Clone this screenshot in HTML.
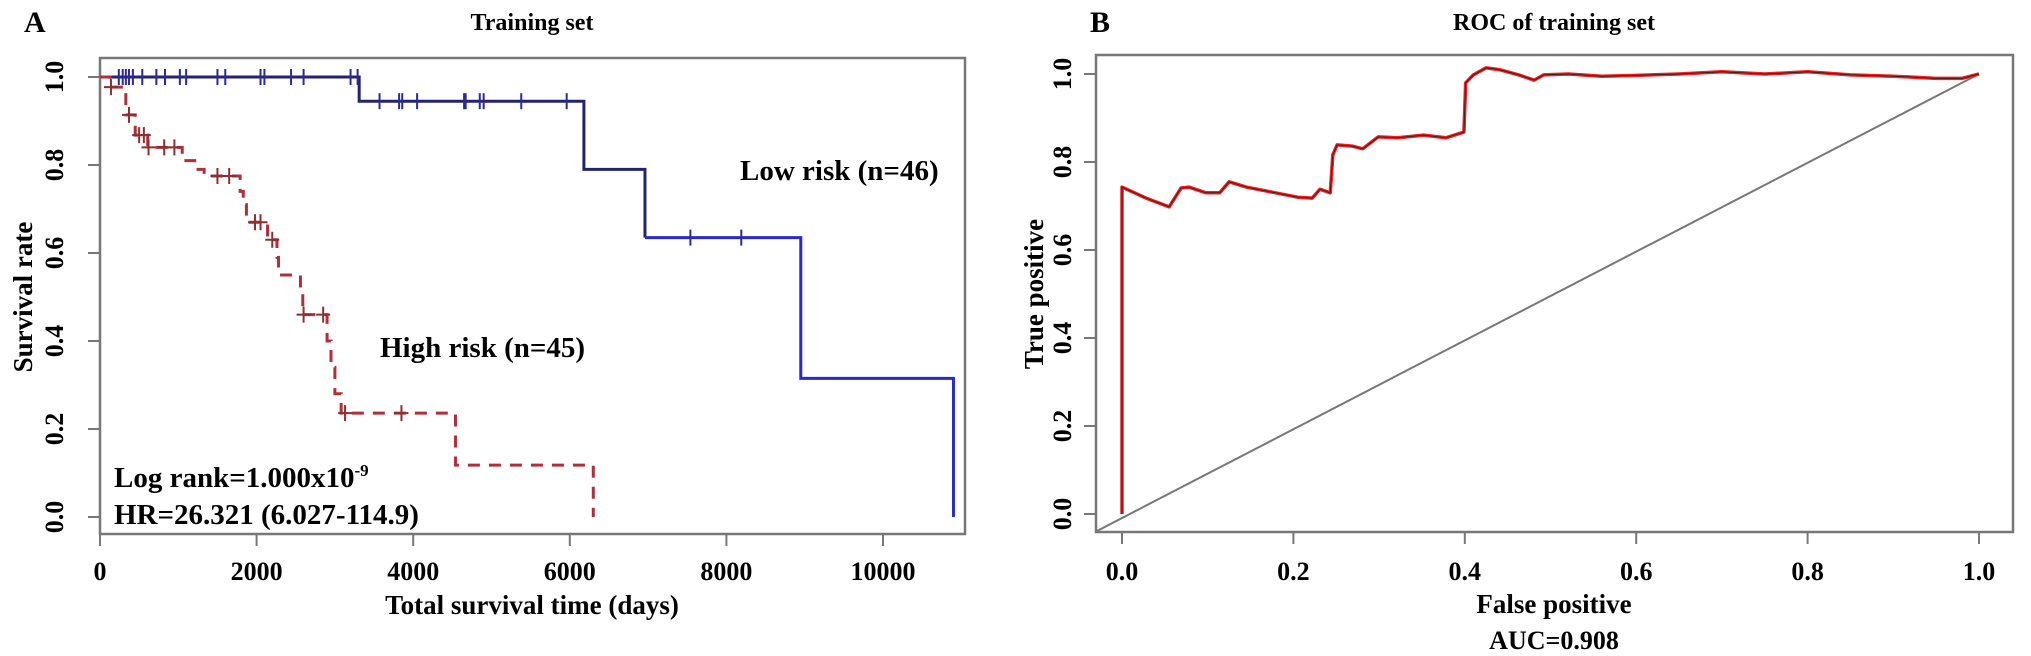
<!DOCTYPE html>
<html><head><meta charset="utf-8"><style>
html,body{margin:0;padding:0;background:#fff;}
svg{display:block;font-family:"Liberation Serif",serif;font-weight:bold;}
</style></head><body>
<svg id="fig" width="2031" height="656" viewBox="0 0 2031 656" xmlns="http://www.w3.org/2000/svg">
<g id="left"></g>
<g id="right"></g>
</svg>
<script>
// ---- KM data ----
const kmXTicks = [0, 2000, 4000, 6000, 8000, 10000];
const kmYTicks = [0.0, 0.2, 0.4, 0.6, 0.8, 1.0];
const lowTimes = [3310, 6180, 6960, 8950, 10900];
const lowSurv = [0.945, 0.79, 0.635, 0.315, 0];
const lowCensorT = [240,290,330,370,420,540,720,830,1020,1100,1500,1600,2050,2100,2440,2600,3200,3290,3570,3820,3860,4050,4650,4670,4850,4900,5380,5960,7540,8190];
const highTimes = [130,330,450,610,1050,1210,1330,1790,1830,1870,2140,2260,2280,2560,2590,2900,2950,3000,3080,4540,6300];
const highSurv = [0.977,0.914,0.868,0.84,0.81,0.79,0.775,0.74,0.71,0.67,0.63,0.59,0.55,0.52,0.46,0.40,0.34,0.28,0.236,0.118,0];
const highCensorT = [140,370,500,560,620,820,950,1500,1650,1980,2050,2200,2600,2850,3130,3850];
// ---- ROC data ----
const rocXTicks = [0.0,0.2,0.4,0.6,0.8,1.0];
const rocYTicks = [0.0,0.2,0.4,0.6,0.8,1.0];
const rocFP = [0,0,0.028,0.055,0.069,0.078,0.098,0.114,0.125,0.145,0.205,0.222,0.231,0.243,0.246,0.251,0.269,0.281,0.299,0.322,0.352,0.378,0.399,0.401,0.41,0.425,0.44,0.463,0.481,0.492,0.521,0.56,0.6,0.65,0.7,0.75,0.8,0.85,0.9,0.95,0.98,1.0];
const rocTP = [0,0.743,0.718,0.698,0.741,0.743,0.73,0.73,0.755,0.743,0.72,0.718,0.738,0.73,0.816,0.839,0.836,0.83,0.857,0.855,0.861,0.855,0.868,0.98,0.998,1.014,1.01,0.998,0.986,0.998,1.0,0.995,0.997,1.0,1.005,1.0,1.005,0.998,0.995,0.99,0.99,1.0];

const NS='http://www.w3.org/2000/svg';
function mk(parent, tag, attrs, text){const e=document.createElementNS(NS,tag);for(const k in attrs)e.setAttribute(k,attrs[k]);if(text!==undefined)e.textContent=text;parent.appendChild(e);return e;}

// KM axes
const L = document.getElementById('left');
const kx = t => 100 + t * (783/10000);
const ky = s => 517 - s * 440;
let e;
e = mk(L,'rect',{x:100,y:58,width:865,height:476,fill:'none',stroke:'#777','stroke-width':2.5});


kmXTicks.forEach(v=>{
  e = mk(L,'line',{x1:kx(v),x2:kx(v),y1:534,y2:546,stroke:'#777','stroke-width':2});
  
  
  e = mk(L,'text',{x:kx(v),y:580,'text-anchor':'middle','font-size':26},String(v));
  
  
});
kmYTicks.forEach(v=>{
  e = mk(L,'line',{x1:88,x2:100,y1:ky(v),y2:ky(v),stroke:'#777','stroke-width':2});
  
  
  e = mk(L,'text',{x:0,y:0,'text-anchor':'middle','font-size':26,transform:`translate(63,${ky(v)}) rotate(-90)`},v.toFixed(1));
  
  
});
function stepPath(times, surv){
  let d=`M${kx(0)},${ky(1)}`; let prev=1;
  times.forEach((t,i)=>{d+=` L${kx(t)},${ky(prev)} L${kx(t)},${ky(surv[i])}`;prev=surv[i];});
  return d;
}
function survAt(times,surv,t){let s=1;for(let i=0;i<times.length;i++){if(times[i]<=t)s=surv[i];}return s;}
e = mk(L,'path',{d:stepPath(lowTimes.slice(0,3),lowSurv.slice(0,3)),fill:'none',stroke:'#23236e','stroke-width':3});


e = mk(L,'path',{d:`M${kx(lowTimes[2])},${ky(lowSurv[2])} L${kx(lowTimes[3])},${ky(lowSurv[2])} L${kx(lowTimes[3])},${ky(lowSurv[3])} L${kx(lowTimes[4])},${ky(lowSurv[3])} L${kx(lowTimes[4])},${ky(lowSurv[4])}`,fill:'none',stroke:'#2a2acc','stroke-width':3});


lowCensorT.forEach(t=>{
  const y=ky(survAt(lowTimes,lowSurv,t));
  e = mk(L,'line',{x1:kx(t),x2:kx(t),y1:y-8,y2:y+8,stroke:'#2a2a9a','stroke-width':2});
  
  
});
e = mk(L,'path',{d:stepPath(highTimes,highSurv),fill:'none',stroke:'#b0303a','stroke-width':3,'stroke-dasharray':'12,9'});


highCensorT.forEach(t=>{
  const y=ky(survAt(highTimes,highSurv,t));
  e = mk(L,'path',{d:`M${kx(t)},${y-8} V${y+8} M${kx(t)-7},${y} H${kx(t)+7}`,stroke:'#8a3030','stroke-width':2});
  
  
});

// ROC axes
const R = document.getElementById('right');
const rx = v => 1122 + v*857;
const ry = v => 514 - v*440;
e = mk(R,'rect',{x:1096,y:55,width:917,height:477,fill:'none',stroke:'#777','stroke-width':2.5});


rocXTicks.forEach(v=>{
  e = mk(R,'line',{x1:rx(v),x2:rx(v),y1:532,y2:544,stroke:'#777','stroke-width':2});
  
  
  e = mk(R,'text',{x:rx(v),y:580,'text-anchor':'middle','font-size':26},v.toFixed(1));
  
  
});
rocYTicks.forEach(v=>{
  e = mk(R,'line',{x1:1084,x2:1096,y1:ry(v),y2:ry(v),stroke:'#777','stroke-width':2});
  
  
  e = mk(R,'text',{x:0,y:0,'text-anchor':'middle','font-size':26,transform:`translate(1071,${ry(v)}) rotate(-90)`},v.toFixed(1));
  
  
});
e = mk(R,'line',{x1:1097,y1:531,x2:rx(1.0),y2:ry(1.0),stroke:'#777','stroke-width':2});


const rocD = rocFP.map((f,i)=>(i?'L':'M')+rx(f)+','+ry(rocTP[i])).join(' ');
e = mk(R,'path',{d:rocD,fill:'none',stroke:'#ee2222','stroke-width':3.5,'stroke-linejoin':'round'});


e = mk(R,'path',{d:rocD,fill:'none',stroke:'#4a1a1a','stroke-width':1,'stroke-linejoin':'round'});


</script>
<svg width="2031" height="656" style="position:absolute;left:0;top:0" xmlns="http://www.w3.org/2000/svg">
<text x="24" y="32" font-size="30">A</text>
<text x="1090" y="32" font-size="30">B</text>
<text x="532" y="30" font-size="24" text-anchor="middle">Training set</text>
<text x="1554" y="30" font-size="24" text-anchor="middle">ROC of training set</text>
<text x="532" y="614" font-size="27" text-anchor="middle">Total survival time (days)</text>
<text font-size="27" text-anchor="middle" transform="translate(32,297) rotate(-90)">Survival rate</text>
<text x="1554" y="613" font-size="27" text-anchor="middle">False positive</text>
<text x="1554" y="649" font-size="26" text-anchor="middle">AUC=0.908</text>
<text font-size="27" text-anchor="middle" transform="translate(1043,294) rotate(-90)">True positive</text>
<text x="740" y="180" font-size="29">Low risk (n=46)</text>
<text x="380" y="357" font-size="29">High risk (n=45)</text>
<text x="114" y="487" font-size="29">Log rank=1.000x10<tspan dy="-11" font-size="17">-9</tspan></text>
<text x="114" y="524" font-size="29">HR=26.321 (6.027-114.9)</text>
</svg>
</body></html>
